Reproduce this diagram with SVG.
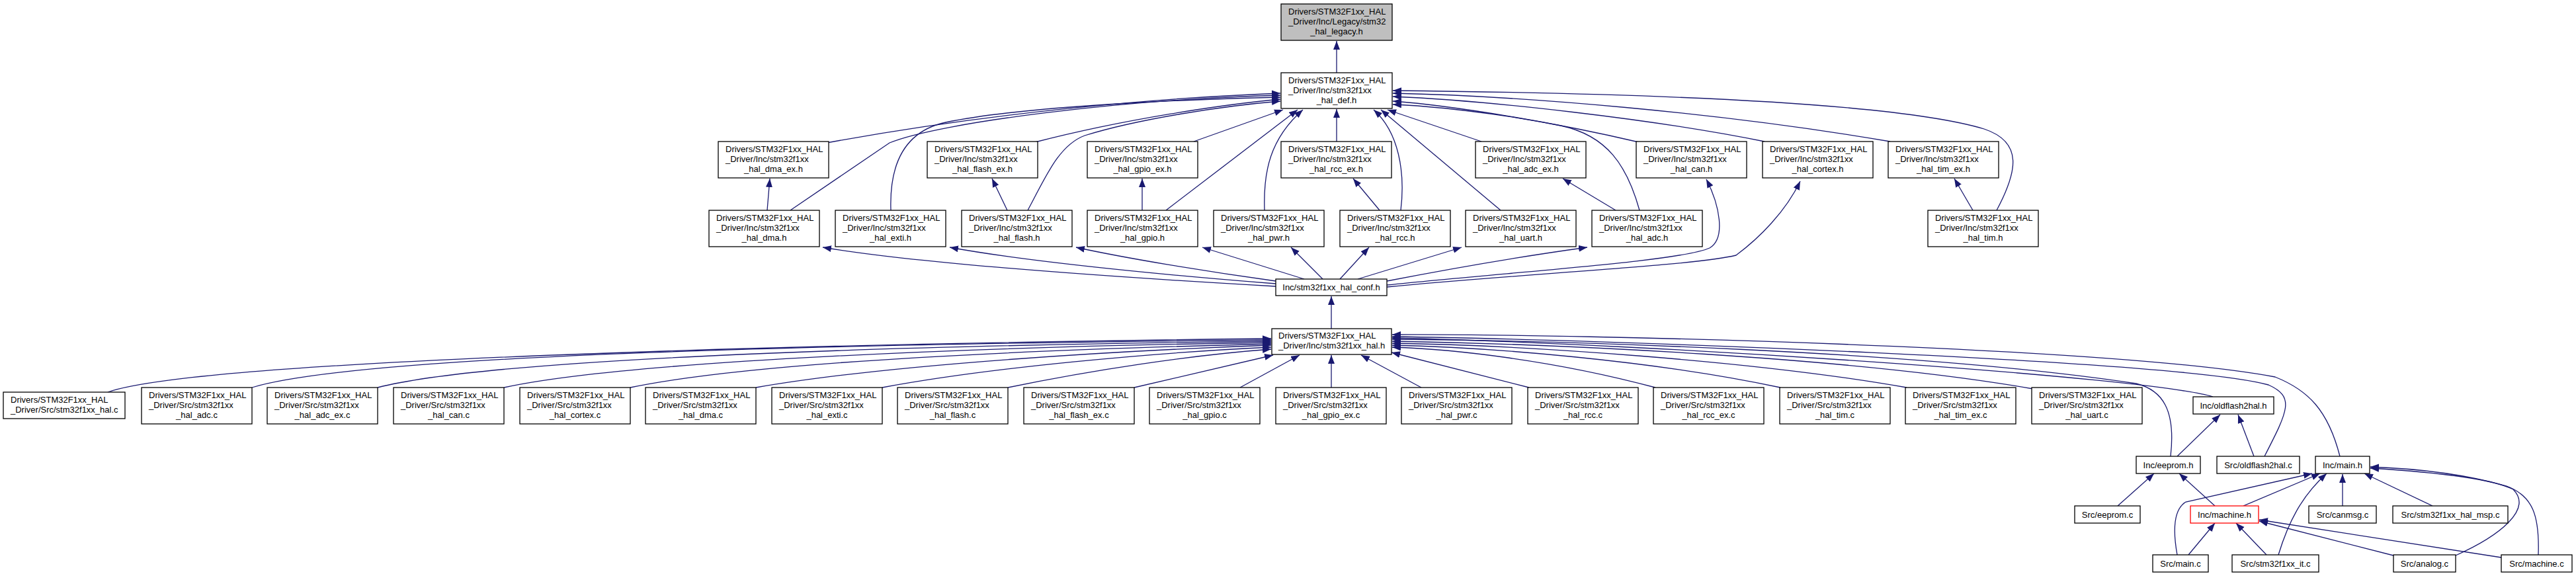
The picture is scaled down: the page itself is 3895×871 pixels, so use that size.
<svg xmlns="http://www.w3.org/2000/svg" width="3895" height="871" viewBox="0 0 3895 871">
<style>
.n rect{fill:#fff;stroke:#000;stroke-width:1.3}
.n text{font-family:"Liberation Sans",Arial,sans-serif;font-size:13px;fill:#000}
.m{text-anchor:middle}
.e path{fill:none;stroke:#191970;stroke-width:1.3;marker-end:url(#a)}
</style>
<defs>
<marker id="a" markerUnits="userSpaceOnUse" markerWidth="14" markerHeight="11" refX="13" refY="5" orient="auto"><path d="M0,0 L13,5 L0,10 z" fill="#191970"/></marker>
</defs>
<rect width="3895" height="871" fill="#fff"/>
<g class="e" id="edges">
<path d="M2021,110 L2021,62"/>
<path d="M1250,216 C1500,170 1750,148 1936,141"/>
<path d="M1565,215 C1700,180 1850,158 1936,150"/>
<path d="M1805,214 L1940,166"/>
<path d="M2021,214 L2021,165"/>
<path d="M2240,214 L2098,166"/>
<path d="M2478,215 C2350,185 2200,160 2106,153"/>
<path d="M2668,214 C2500,180 2250,152 2106,146"/>
<path d="M2858,214 C2600,170 2300,145 2106,141"/>
<path d="M3019,318 C3050,260 3060,215 3000,195 C2850,150 2400,140 2106,137"/>
<path d="M1195,318 L1345,216 C1420,185 1700,150 1936,144"/>
<path d="M1347,318 C1345,260 1360,200 1430,185 C1550,160 1800,150 1936,147"/>
<path d="M1554,318 C1580,270 1600,220 1640,205 C1720,180 1850,160 1936,153"/>
<path d="M1763,318 L1962,166"/>
<path d="M1912,318 C1910,260 1920,210 1970,166"/>
<path d="M2118,318 C2125,260 2115,200 2077,166"/>
<path d="M2269,318 L2088,166"/>
<path d="M2479,318 C2460,250 2430,205 2360,190 C2260,170 2160,160 2106,158"/>
<path d="M1160,318 L1164,270"/>
<path d="M1523,318 L1500,270"/>
<path d="M1727,318 L1727,270"/>
<path d="M2086,318 L2046,270"/>
<path d="M2443,318 L2363,270"/>
<path d="M2983,318 L2955,270"/>
<path d="M1929,433 C1700,420 1400,400 1244,374"/>
<path d="M1929,429 C1750,415 1550,395 1436,374"/>
<path d="M1929,425 C1820,410 1700,390 1627,374"/>
<path d="M1972,422 L1818,374"/>
<path d="M2000,422 L1952,374"/>
<path d="M2026,422 L2070,374"/>
<path d="M2053,422 L2210,374"/>
<path d="M2097,425 C2200,405 2320,385 2400,374"/>
<path d="M2097,431 C2300,410 2540,395 2585,375 C2610,360 2600,310 2580,271"/>
<path d="M2097,434 C2300,414 2560,402 2625,386 C2660,360 2700,320 2722,274"/>
<path d="M2013,497 L2013,448"/>
<path d="M163,593 C300,545 1200,520 1922,512"/>
<path d="M381,586 C550,535 1300,520 1922,514"/>
<path d="M571,586 C750,540 1400,522 1922,516"/>
<path d="M762,586 C950,545 1500,524 1922,518"/>
<path d="M953,586 C1150,545 1600,528 1922,520"/>
<path d="M1143,586 C1350,550 1700,530 1922,522"/>
<path d="M1334,586 C1500,555 1750,533 1922,525"/>
<path d="M1524,586 C1650,560 1800,537 1922,528"/>
<path d="M1715,586 L1925,537"/>
<path d="M1875,586 L1965,537"/>
<path d="M2013,586 L2013,537"/>
<path d="M2149,586 L2058,537"/>
<path d="M2312,586 L2104,533"/>
<path d="M2503,586 C2350,545 2200,528 2105,525"/>
<path d="M2692,586 C2500,545 2250,525 2105,522"/>
<path d="M2883,586 C2650,545 2300,522 2105,519"/>
<path d="M3074,588 C2800,540 2350,520 2105,516"/>
<path d="M3282,690 C3290,620 3270,590 3230,580 C2900,530 2350,515 2105,513"/>
<path d="M3346,600 C3250,570 2500,520 2105,511"/>
<path d="M3424,690 C3460,620 3470,600 3430,582 C3300,545 2400,513 2105,509"/>
<path d="M3538,690 C3520,620 3490,590 3440,570 C3200,525 2400,505 2105,506"/>
<path d="M3292,690 L3357,627"/>
<path d="M3408,690 L3384,627"/>
<path d="M3202,765 L3257,716"/>
<path d="M3349,765 L3295,716"/>
<path d="M3392,765 L3508,716"/>
<path d="M3292,839 C3285,800 3287,770 3305,759 L3496,716"/>
<path d="M3309,839 L3349,791"/>
<path d="M3427,839 L3381,791"/>
<path d="M3445,839 C3460,790 3480,750 3518,716"/>
<path d="M3542,765 L3542,717"/>
<path d="M3678,765 L3575,716"/>
<path d="M3619,840 L3416,788"/>
<path d="M3713,840 C3780,810 3830,770 3800,740 C3760,720 3650,712 3584,708"/>
<path d="M3782,843 L3416,786"/>
<path d="M3838,839 C3840,780 3830,750 3790,735 C3720,715 3640,708 3584,706"/>
</g>
<g class="n" id="legacy"><rect x="1937" y="6" width="168" height="55" style="fill:#bfbfbf"/><text x="1948" y="22">Drivers/STM32F1xx_HAL</text><text x="1948" y="37">_Driver/Inc/Legacy/stm32</text><text class="m" x="2021" y="51.5">_hal_legacy.h</text></g>
<g class="n" id="hal_def"><rect x="1937" y="110" width="168" height="54"/><text x="1948" y="126">Drivers/STM32F1xx_HAL</text><text x="1948" y="141">_Driver/Inc/stm32f1xx</text><text class="m" x="2021" y="155.5">_hal_def.h</text></g>
<g class="n" id="dma_ex_h"><rect x="1086" y="214" width="167" height="55"/><text x="1097" y="230">Drivers/STM32F1xx_HAL</text><text x="1097" y="245">_Driver/Inc/stm32f1xx</text><text class="m" x="1169.5" y="259.5">_hal_dma_ex.h</text></g>
<g class="n" id="flash_ex_h"><rect x="1402" y="214" width="167" height="55"/><text x="1413" y="230">Drivers/STM32F1xx_HAL</text><text x="1413" y="245">_Driver/Inc/stm32f1xx</text><text class="m" x="1485.5" y="259.5">_hal_flash_ex.h</text></g>
<g class="n" id="gpio_ex_h"><rect x="1644" y="214" width="167" height="55"/><text x="1655" y="230">Drivers/STM32F1xx_HAL</text><text x="1655" y="245">_Driver/Inc/stm32f1xx</text><text class="m" x="1727.5" y="259.5">_hal_gpio_ex.h</text></g>
<g class="n" id="rcc_ex_h"><rect x="1937" y="214" width="167" height="55"/><text x="1948" y="230">Drivers/STM32F1xx_HAL</text><text x="1948" y="245">_Driver/Inc/stm32f1xx</text><text class="m" x="2020.5" y="259.5">_hal_rcc_ex.h</text></g>
<g class="n" id="adc_ex_h"><rect x="2231" y="214" width="167" height="55"/><text x="2242" y="230">Drivers/STM32F1xx_HAL</text><text x="2242" y="245">_Driver/Inc/stm32f1xx</text><text class="m" x="2314.5" y="259.5">_hal_adc_ex.h</text></g>
<g class="n" id="can_h"><rect x="2474" y="214" width="167" height="55"/><text x="2485" y="230">Drivers/STM32F1xx_HAL</text><text x="2485" y="245">_Driver/Inc/stm32f1xx</text><text class="m" x="2557.5" y="259.5">_hal_can.h</text></g>
<g class="n" id="cortex_h"><rect x="2665" y="214" width="167" height="55"/><text x="2676" y="230">Drivers/STM32F1xx_HAL</text><text x="2676" y="245">_Driver/Inc/stm32f1xx</text><text class="m" x="2748.5" y="259.5">_hal_cortex.h</text></g>
<g class="n" id="tim_ex_h"><rect x="2855" y="214" width="167" height="55"/><text x="2866" y="230">Drivers/STM32F1xx_HAL</text><text x="2866" y="245">_Driver/Inc/stm32f1xx</text><text class="m" x="2938.5" y="259.5">_hal_tim_ex.h</text></g>
<g class="n" id="dma_h"><rect x="1072" y="318" width="167" height="55"/><text x="1083" y="334">Drivers/STM32F1xx_HAL</text><text x="1083" y="349">_Driver/Inc/stm32f1xx</text><text class="m" x="1155.5" y="363.5">_hal_dma.h</text></g>
<g class="n" id="exti_h"><rect x="1263" y="318" width="167" height="55"/><text x="1274" y="334">Drivers/STM32F1xx_HAL</text><text x="1274" y="349">_Driver/Inc/stm32f1xx</text><text class="m" x="1346.5" y="363.5">_hal_exti.h</text></g>
<g class="n" id="flash_h"><rect x="1454" y="318" width="167" height="55"/><text x="1465" y="334">Drivers/STM32F1xx_HAL</text><text x="1465" y="349">_Driver/Inc/stm32f1xx</text><text class="m" x="1537.5" y="363.5">_hal_flash.h</text></g>
<g class="n" id="gpio_h"><rect x="1644" y="318" width="167" height="55"/><text x="1655" y="334">Drivers/STM32F1xx_HAL</text><text x="1655" y="349">_Driver/Inc/stm32f1xx</text><text class="m" x="1727.5" y="363.5">_hal_gpio.h</text></g>
<g class="n" id="pwr_h"><rect x="1835" y="318" width="167" height="55"/><text x="1846" y="334">Drivers/STM32F1xx_HAL</text><text x="1846" y="349">_Driver/Inc/stm32f1xx</text><text class="m" x="1918.5" y="363.5">_hal_pwr.h</text></g>
<g class="n" id="rcc_h"><rect x="2026" y="318" width="167" height="55"/><text x="2037" y="334">Drivers/STM32F1xx_HAL</text><text x="2037" y="349">_Driver/Inc/stm32f1xx</text><text class="m" x="2109.5" y="363.5">_hal_rcc.h</text></g>
<g class="n" id="uart_h"><rect x="2216" y="318" width="167" height="55"/><text x="2227" y="334">Drivers/STM32F1xx_HAL</text><text x="2227" y="349">_Driver/Inc/stm32f1xx</text><text class="m" x="2299.5" y="363.5">_hal_uart.h</text></g>
<g class="n" id="adc_h"><rect x="2407" y="318" width="167" height="55"/><text x="2418" y="334">Drivers/STM32F1xx_HAL</text><text x="2418" y="349">_Driver/Inc/stm32f1xx</text><text class="m" x="2490.5" y="363.5">_hal_adc.h</text></g>
<g class="n" id="tim_h"><rect x="2915" y="318" width="167" height="55"/><text x="2926" y="334">Drivers/STM32F1xx_HAL</text><text x="2926" y="349">_Driver/Inc/stm32f1xx</text><text class="m" x="2998.5" y="363.5">_hal_tim.h</text></g>
<g class="n" id="conf_h"><rect x="1929" y="422" width="168" height="25"/><text class="m" x="2013" y="439">Inc/stm32f1xx_hal_conf.h</text></g>
<g class="n" id="hal_h"><rect x="1923" y="497" width="181" height="39"/><text x="1933" y="512">Drivers/STM32F1xx_HAL</text><text x="1933" y="527">_Driver/Inc/stm32f1xx_hal.h</text></g>
<g class="n" id="hal_c"><rect x="5" y="593" width="184" height="40"/><text x="16" y="608.5">Drivers/STM32F1xx_HAL</text><text x="16" y="623.5">_Driver/Src/stm32f1xx_hal.c</text></g>
<g class="n" id="adc_c"><rect x="214" y="586" width="167" height="55"/><text x="225" y="602">Drivers/STM32F1xx_HAL</text><text x="225" y="617">_Driver/Src/stm32f1xx</text><text class="m" x="297.5" y="631.5">_hal_adc.c</text></g>
<g class="n" id="adc_ex_c"><rect x="404" y="586" width="167" height="55"/><text x="415" y="602">Drivers/STM32F1xx_HAL</text><text x="415" y="617">_Driver/Src/stm32f1xx</text><text class="m" x="487.5" y="631.5">_hal_adc_ex.c</text></g>
<g class="n" id="can_c"><rect x="595" y="586" width="167" height="55"/><text x="606" y="602">Drivers/STM32F1xx_HAL</text><text x="606" y="617">_Driver/Src/stm32f1xx</text><text class="m" x="678.5" y="631.5">_hal_can.c</text></g>
<g class="n" id="cortex_c"><rect x="786" y="586" width="167" height="55"/><text x="797" y="602">Drivers/STM32F1xx_HAL</text><text x="797" y="617">_Driver/Src/stm32f1xx</text><text class="m" x="869.5" y="631.5">_hal_cortex.c</text></g>
<g class="n" id="dma_c"><rect x="976" y="586" width="167" height="55"/><text x="987" y="602">Drivers/STM32F1xx_HAL</text><text x="987" y="617">_Driver/Src/stm32f1xx</text><text class="m" x="1059.5" y="631.5">_hal_dma.c</text></g>
<g class="n" id="exti_c"><rect x="1167" y="586" width="167" height="55"/><text x="1178" y="602">Drivers/STM32F1xx_HAL</text><text x="1178" y="617">_Driver/Src/stm32f1xx</text><text class="m" x="1250.5" y="631.5">_hal_exti.c</text></g>
<g class="n" id="flash_c"><rect x="1357" y="586" width="167" height="55"/><text x="1368" y="602">Drivers/STM32F1xx_HAL</text><text x="1368" y="617">_Driver/Src/stm32f1xx</text><text class="m" x="1440.5" y="631.5">_hal_flash.c</text></g>
<g class="n" id="flash_ex_c"><rect x="1548" y="586" width="167" height="55"/><text x="1559" y="602">Drivers/STM32F1xx_HAL</text><text x="1559" y="617">_Driver/Src/stm32f1xx</text><text class="m" x="1631.5" y="631.5">_hal_flash_ex.c</text></g>
<g class="n" id="gpio_c"><rect x="1738" y="586" width="167" height="55"/><text x="1749" y="602">Drivers/STM32F1xx_HAL</text><text x="1749" y="617">_Driver/Src/stm32f1xx</text><text class="m" x="1821.5" y="631.5">_hal_gpio.c</text></g>
<g class="n" id="gpio_ex_c"><rect x="1929" y="586" width="167" height="55"/><text x="1940" y="602">Drivers/STM32F1xx_HAL</text><text x="1940" y="617">_Driver/Src/stm32f1xx</text><text class="m" x="2012.5" y="631.5">_hal_gpio_ex.c</text></g>
<g class="n" id="pwr_c"><rect x="2119" y="586" width="167" height="55"/><text x="2130" y="602">Drivers/STM32F1xx_HAL</text><text x="2130" y="617">_Driver/Src/stm32f1xx</text><text class="m" x="2202.5" y="631.5">_hal_pwr.c</text></g>
<g class="n" id="rcc_c"><rect x="2310" y="586" width="167" height="55"/><text x="2321" y="602">Drivers/STM32F1xx_HAL</text><text x="2321" y="617">_Driver/Src/stm32f1xx</text><text class="m" x="2393.5" y="631.5">_hal_rcc.c</text></g>
<g class="n" id="rcc_ex_c"><rect x="2500" y="586" width="167" height="55"/><text x="2511" y="602">Drivers/STM32F1xx_HAL</text><text x="2511" y="617">_Driver/Src/stm32f1xx</text><text class="m" x="2583.5" y="631.5">_hal_rcc_ex.c</text></g>
<g class="n" id="tim_c"><rect x="2691" y="586" width="167" height="55"/><text x="2702" y="602">Drivers/STM32F1xx_HAL</text><text x="2702" y="617">_Driver/Src/stm32f1xx</text><text class="m" x="2774.5" y="631.5">_hal_tim.c</text></g>
<g class="n" id="tim_ex_c"><rect x="2881" y="586" width="167" height="55"/><text x="2892" y="602">Drivers/STM32F1xx_HAL</text><text x="2892" y="617">_Driver/Src/stm32f1xx</text><text class="m" x="2964.5" y="631.5">_hal_tim_ex.c</text></g>
<g class="n" id="uart_c"><rect x="3072" y="586" width="167" height="55"/><text x="3083" y="602">Drivers/STM32F1xx_HAL</text><text x="3083" y="617">_Driver/Src/stm32f1xx</text><text class="m" x="3155.5" y="631.5">_hal_uart.c</text></g>
<g class="n" id="oldflash2hal_h"><rect x="3316" y="600" width="122" height="26"/><text class="m" x="3377" y="617.5">Inc/oldflash2hal.h</text></g>
<g class="n" id="eeprom_h"><rect x="3230" y="690" width="97" height="26"/><text class="m" x="3278.5" y="707.5">Inc/eeprom.h</text></g>
<g class="n" id="oldflash2hal_c"><rect x="3352" y="690" width="125" height="26"/><text class="m" x="3414.5" y="707.5">Src/oldflash2hal.c</text></g>
<g class="n" id="main_h"><rect x="3501" y="690" width="82" height="26"/><text class="m" x="3542" y="707.5">Inc/main.h</text></g>
<g class="n" id="eeprom_c"><rect x="3137" y="765" width="99" height="26"/><text class="m" x="3186.5" y="782.5">Src/eeprom.c</text></g>
<g class="n" id="machine_h"><rect x="3312" y="765" width="103" height="26" style="stroke:#ff0000"/><text class="m" x="3363.5" y="782.5">Inc/machine.h</text></g>
<g class="n" id="canmsg_c"><rect x="3491" y="765" width="102" height="26"/><text class="m" x="3542" y="782.5">Src/canmsg.c</text></g>
<g class="n" id="hal_msp_c"><rect x="3618" y="765" width="174" height="26"/><text class="m" x="3705" y="782.5">Src/stm32f1xx_hal_msp.c</text></g>
<g class="n" id="main_c"><rect x="3255" y="839" width="84" height="26"/><text class="m" x="3297" y="856.5">Src/main.c</text></g>
<g class="n" id="it_c"><rect x="3375" y="839" width="131" height="26"/><text class="m" x="3440.5" y="856.5">Src/stm32f1xx_it.c</text></g>
<g class="n" id="analog_c"><rect x="3619" y="839" width="94" height="26"/><text class="m" x="3666" y="856.5">Src/analog.c</text></g>
<g class="n" id="machine_c"><rect x="3782" y="839" width="107" height="26"/><text class="m" x="3835.5" y="856.5">Src/machine.c</text></g>
</svg>
